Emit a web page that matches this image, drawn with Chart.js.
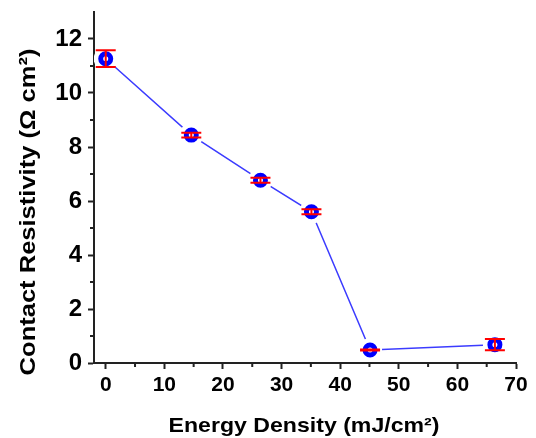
<!DOCTYPE html>
<html>
<head>
<meta charset="utf-8">
<script src="https://cdn.jsdelivr.net/npm/chart.js@4/dist/chart.umd.min.js"></script>
<style>
html,body{margin:0;padding:0;background:#fff;}
canvas{display:block;}
</style>
</head>
<body>
<canvas id="c" width="536" height="438"></canvas>
<script>
// ---- data ----
const energy = [0, 14.6, 26.4, 35.1, 45.1, 66.4];
const resistivity = [11.27, 8.44, 6.77, 5.6, 0.48, 0.68];
const errors = [0.31, 0.09, 0.09, 0.09, 0.02, 0.21];
const xTicks = [0, 10, 20, 30, 40, 50, 60, 70];
const xMinor = [5, 15, 25, 35, 45, 55, 65];
const yTicks = [0, 2, 4, 6, 8, 10, 12];
const yMinor = [1, 3, 5, 7, 9, 11];
const xTitle = 'Energy Density (mJ/cm\u00B2)';
const yTitle = 'Contact Resistivity (\u03A9 cm\u00B2)';

const FONT = '"Liberation Sans", Arial, sans-serif';
const pts = energy.map((e, i) => ({x: e, y: resistivity[i]}));

const extras = {
  id: 'extras',
  afterDatasetsDraw(chart) {
    const {ctx, scales: {x, y}} = chart;
    ctx.save();
    ctx.strokeStyle = '#ff0000';
    ctx.lineWidth = 2;
    energy.forEach((e, i) => {
      const px = x.getPixelForValue(e);
      const t = y.getPixelForValue(resistivity[i] + errors[i]);
      const b = y.getPixelForValue(resistivity[i] - errors[i]);
      ctx.beginPath();
      ctx.moveTo(px, t); ctx.lineTo(px, b);
      ctx.moveTo(px - 10, t); ctx.lineTo(px + 10, t);
      ctx.moveTo(px - 10, b); ctx.lineTo(px + 10, b);
      ctx.stroke();
    });
    ctx.restore();
  },
  afterDraw(chart) {
    const {ctx, scales: {x, y}, chartArea} = chart;
    ctx.save();
    ctx.strokeStyle = '#222';
    ctx.lineWidth = 2;
    ctx.beginPath();
    xMinor.forEach(v => {
      const px = x.getPixelForValue(v);
      ctx.moveTo(px, chartArea.bottom); ctx.lineTo(px, chartArea.bottom + 4);
    });
    yMinor.forEach(v => {
      const py = y.getPixelForValue(v);
      ctx.moveTo(chartArea.left, py); ctx.lineTo(chartArea.left - 4, py);
    });
    ctx.stroke();

    ctx.fillStyle = '#000';
    ctx.font = 'bold 21px ' + FONT;
    ctx.textAlign = 'center';
    ctx.textBaseline = 'alphabetic';
    ctx.save();
    ctx.translate(304, 432);
    ctx.scale(1.1, 1);
    ctx.fillText(xTitle, 0, 0);
    ctx.restore();

    ctx.save();
    ctx.translate(35, 212);
    ctx.rotate(-Math.PI / 2);
    ctx.font = 'bold 22px ' + FONT;
    ctx.scale(1.16, 1);
    ctx.fillText(yTitle, 0, 0);
    ctx.restore();
    ctx.restore();
  }
};

new Chart(document.getElementById('c'), {
  type: 'scatter',
  data: {
    datasets: [
      {
        data: pts, showLine: false, order: 0,
        pointRadius: 5, pointBorderWidth: 5,
        pointBorderColor: '#0000ff', pointBackgroundColor: '#ffffff',
        pointHoverRadius: 5
      },
      {
        data: pts, showLine: false, order: 1,
        pointRadius: 12, pointBorderWidth: 0,
        pointBackgroundColor: '#ffffff', pointBorderColor: '#ffffff'
      },
      {
        data: pts, showLine: true, order: 2,
        borderColor: '#3b3bff', borderWidth: 1.5,
        pointRadius: 0, tension: 0
      }
    ]
  },
  options: {
    responsive: false,
    animation: false,
    devicePixelRatio: 1,
    layout: {padding: {top: 10, right: 20, left: 0, bottom: 0}},
    plugins: {legend: {display: false}, tooltip: {enabled: false}},
    scales: {
      x: {
        type: 'linear', min: -2, max: 70,
        afterBuildTicks: s => { s.ticks = xTicks.map(v => ({value: v})); },
        afterFit: s => { s.height = 75; s.paddingLeft = 0; s.paddingRight = 0; },
        grid: {drawOnChartArea: false, tickLength: 6, tickWidth: 2, tickColor: '#222'},
        border: {color: '#222', width: 2},
        ticks: {color: '#000', padding: 4, maxRotation: 0, autoSkip: false,
                font: {family: FONT, size: 21, weight: 'bold'}}
      },
      y: {
        type: 'linear', min: 0, max: 13,
        afterBuildTicks: s => { s.ticks = yTicks.map(v => ({value: v})); },
        afterFit: s => { s.width = 94; s.paddingTop = 0; s.paddingBottom = 0; },
        grid: {drawOnChartArea: false, tickLength: 6, tickWidth: 2, tickColor: '#222'},
        border: {color: '#222', width: 2},
        ticks: {color: '#000', padding: 6, autoSkip: false,
                font: {family: FONT, size: 24, weight: 'bold'}}
      }
    }
  },
  plugins: [extras]
});
</script>
</body>
</html>
